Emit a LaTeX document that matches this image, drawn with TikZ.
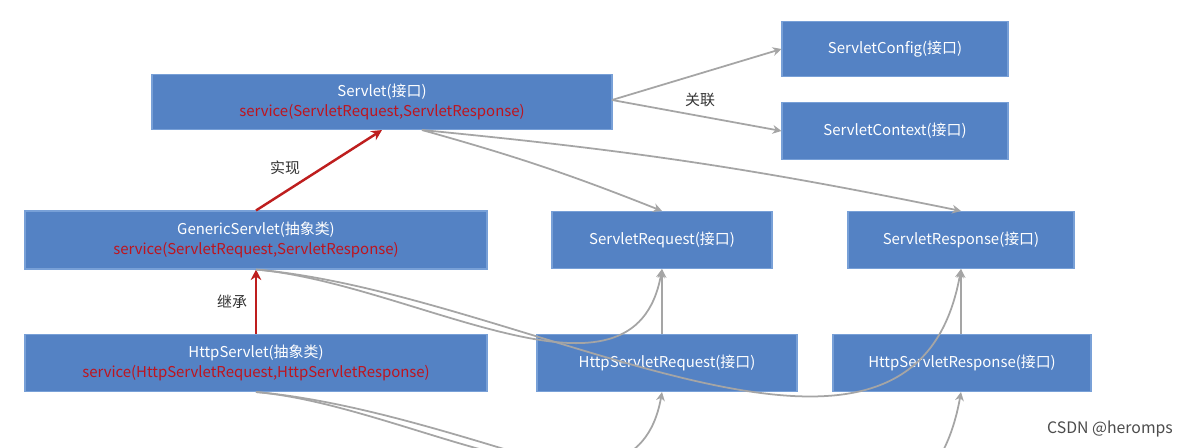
\documentclass[tikz,border=0pt]{standalone}
\usepackage{fontspec}
\setmainfont{Noto Sans CJK SC}
\usetikzlibrary{arrows.meta}
\definecolor{boxblue}{RGB}{84,130,196}
\definecolor{boxline}{RGB}{120,160,215}
\definecolor{linkgray}{RGB}{165,165,165}
\definecolor{redtext}{RGB}{190,20,30}
\definecolor{redline}{RGB}{190,30,30}
\tikzset{
  box/.style={draw=boxline, line width=0.6pt, fill=boxblue, text=white, font=\fontsize{8.5}{11}\selectfont, align=center, inner sep=0pt},
  link/.style={draw=linkgray, line width=1pt, -{Stealth[length=5pt,width=5pt]}},
  impl/.style={draw=redline, line width=1.4pt, -{Stealth[length=6pt,width=6pt]}},
  lbl/.style={font=\fontsize{8.5}{10}\selectfont, text=black!80}
}
\newcommand{\red}[1]{\textcolor{redtext}{#1}}
\begin{document}
\begin{tikzpicture}[x=0.02cm,y=-0.02cm]
\useasboundingbox[fill=white] (0,0) rectangle (1192,448);

\node[box, minimum width=460*0.02cm, minimum height=55*0.02cm] (servlet) at (382,102) {Servlet(接口)\\\red{service(ServletRequest,ServletResponse)}};
\node[box, minimum width=226*0.02cm, minimum height=55*0.02cm] (config) at (895,49) {ServletConfig(接口)};
\node[box, minimum width=226*0.02cm, minimum height=57*0.02cm] (context) at (895,131) {ServletContext(接口)};
\node[box, minimum width=462*0.02cm, minimum height=58*0.02cm] (generic) at (256,240) {GenericServlet(抽象类)\\\red{service(ServletRequest,ServletResponse)}};
\node[box, minimum width=220*0.02cm, minimum height=57*0.02cm] (request) at (662,240) {ServletRequest(接口)};
\node[box, minimum width=226*0.02cm, minimum height=57*0.02cm] (response) at (961,240) {ServletResponse(接口)};
\node[box, minimum width=462*0.02cm, minimum height=57*0.02cm] (http) at (256,363) {HttpServlet(抽象类)\\\red{service(HttpServletRequest,HttpServletResponse)}};
\node[box, minimum width=260*0.02cm, minimum height=57*0.02cm] (hrequest) at (667,363) {HttpServletRequest(接口)};
\node[box, minimum width=258*0.02cm, minimum height=57*0.02cm] (hresponse) at (962,363) {HttpServletResponse(接口)};

% 关联
\coordinate (sr) at (612,100);
\draw[link] (sr) -- (config.west);
\draw[link] (sr) -- (context.west);
\node[lbl] (assoc) at (700,100) {关联};
\draw[link] (servlet.south) ++(40,0) coordinate (sb) to[bend left=3] (request.north);
\draw[link] (sb) to[bend left=3] (response.north);

% 实现 / 继承
\draw[impl] (generic.north) -- (servlet.south);
\node[lbl] (implement) at (285,168) {实现};
\draw[impl] (http.north) -- (generic.south);
\node[lbl] (inherit) at (232,302) {继承};

\draw[link] (generic.south) to[out=-5,in=-100] (request.south);
\draw[link] (generic.south) to[out=-5,in=-100] (response.south);
\draw[link] (hrequest.north -| request.south) -- (request.south);
\draw[link] (hresponse.north -| response.south) -- (response.south);
\draw[link] (http.south) to[out=-5,in=-100] (hrequest.south -| request.south);
\draw[link] (http.south) to[out=-5,in=-100] (hresponse.south -| response.south);

\node[font=\fontsize{9}{11}\selectfont, text=black!70] (mark) at (1110,429) {CSDN @heromps};
\end{tikzpicture}
\end{document}
